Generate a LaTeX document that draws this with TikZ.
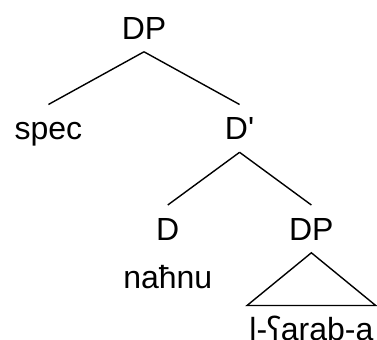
\documentclass[tikz,border=0pt]{standalone}
\usepackage{fontspec}
\setmainfont{Liberation Sans}
\newfontfamily\ipa{Noto Sans}
\usepackage{tikz}
\usepackage{tikz-qtree}
\usetikzlibrary{positioning}

\tikzset{every tree node/.append style={font=\fontsize{16}{19}\selectfont,
           inner xsep=1pt, inner ysep=6pt, text height=11.5pt, text depth=0pt},
         edge from parent/.style={draw, line width=0.7pt,
           edge from parent path={(\tikzparentnode.south) -- (\tikzchildnode.north)}}}

\begin{document}
\begin{tikzpicture}[level distance=50.25pt, sibling distance=35pt,
                    level 2/.style={sibling distance=32.5pt}]
\Tree [.\node(top){DP}; \node(spec){spec};
        [.\node(dbar){D\textquotesingle}; \node(d){D};
          [.\node(dp){DP}; \edge[roof]; \node(arab){l-{\ipa ʕ}arab-a}; ] ] ]
% the head word sits under D, no branch
\node[below=0pt of d, font=\fontsize{16}{19}\selectfont, inner xsep=1pt,
      inner ysep=6pt, text height=11.5pt, text depth=0pt] (nahnu) {naħnu};
\pgfresetboundingbox
\useasboundingbox ([xshift=-72pt,yshift=2pt]top.north) rectangle ++(188.5pt,-170pt);
\end{tikzpicture}
\end{document}
